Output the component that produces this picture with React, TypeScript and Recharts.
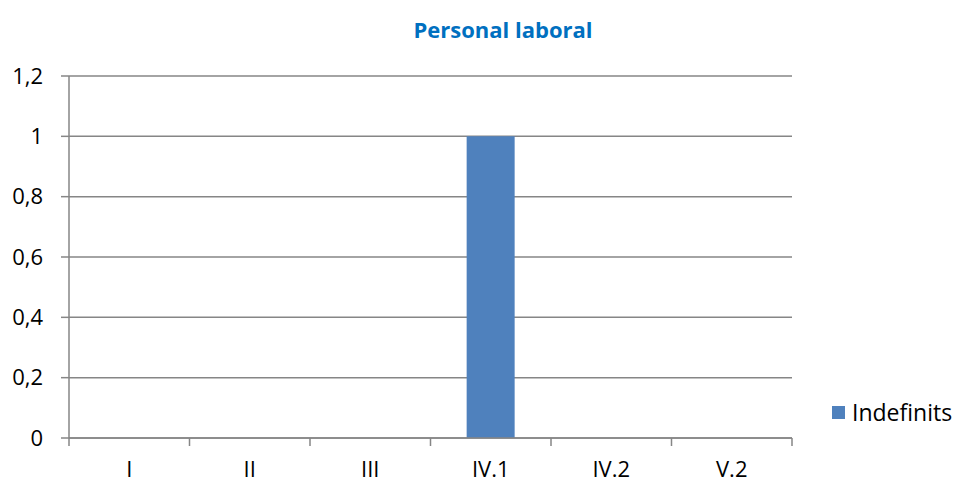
import { Bar, BarChart, CartesianGrid, XAxis, YAxis } from "recharts";

const categories = ["I", "II", "III", "IV.1", "IV.2", "V.2"];
const indefinits = [0, 0, 0, 1, 0, 0];
const yTicks = [0, 0.2, 0.4, 0.6, 0.8, 1, 1.2];

const data = categories.map((name, i) => ({ name, indefinits: indefinits[i] }));

const FONT = "'Open Sans', sans-serif";
const GRID = "#868686";
const BAR = "#4F81BD";

function CategoryTick(props: any) {
  const { x, y, payload, index } = props;
  const half = payload.offset || 0;
  return (
    <g>
      <line x1={x - half} x2={x - half} y1={y - 8} y2={y} stroke={GRID} strokeWidth={1.5} />
      {index === categories.length - 1 && (
        <line x1={x + half} x2={x + half} y1={y - 8} y2={y} stroke={GRID} strokeWidth={1.5} />
      )}
      <text x={x} y={y + 31} textAnchor="middle" fill="#000" fontSize={22} fontFamily={FONT}>
        {payload.value}
      </text>
    </g>
  );
}

export default function App() {
  return (
    <div style={{ position: "absolute", left: 0, top: 0, width: 957, height: 483, background: "#fff" }}>
      <div
        style={{
          position: "absolute",
          left: 0,
          width: 1006,
          top: 14,
          textAlign: "center",
          fontFamily: FONT,
          fontWeight: 700,
          fontSize: 22,
          color: "#0070C0",
        }}
      >
        Personal laboral
      </div>
      <BarChart
        width={957}
        height={483}
        data={data}
        margin={{ top: 76, right: 165, left: 9, bottom: 0 }}
        barCategoryGap="30%"
      >
        <CartesianGrid vertical={false} stroke={GRID} strokeWidth={1.5} />
        <XAxis
          dataKey="name"
          height={45}
          axisLine={{ stroke: GRID, strokeWidth: 1.5 }}
          tickLine={false}
          tick={<CategoryTick />}
          interval={0}
        />
        <YAxis
          width={60}
          domain={[0, 1.2]}
          ticks={yTicks}
          interval={0}
          axisLine={{ stroke: GRID, strokeWidth: 1.5 }}
          tickLine={{ stroke: GRID, strokeWidth: 1.5 }}
          tickSize={8}
          tickMargin={18}
          tickFormatter={(v: number) => String(v).replace(".", ",")}
          tick={{ fill: "#000", fontSize: 22, fontFamily: FONT }}
        />
        <Bar dataKey="indefinits" name="Indefinits" fill={BAR} isAnimationActive={false} />
      </BarChart>
      <div
        style={{
          position: "absolute",
          left: 832,
          top: 396,
          display: "flex",
          alignItems: "center",
          fontFamily: FONT,
          fontSize: 23,
          color: "#000",
        }}
      >
        <span style={{ width: 13, height: 13, background: BAR, marginRight: 7 }} />
        <span>Indefinits</span>
      </div>
    </div>
  );
}
